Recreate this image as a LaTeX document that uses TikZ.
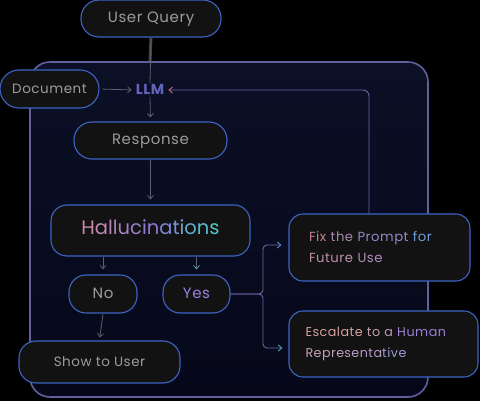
\documentclass[tikz,border=0pt]{standalone}
\usepackage{fontspec}
\setmainfont{Poppins}[LetterSpace=4]
\usetikzlibrary{arrows.meta,calc}

\definecolor{bg}{HTML}{000000}
\definecolor{panelA}{HTML}{0B1026}
\definecolor{panelB}{HTML}{06081A}
\definecolor{panelline}{HTML}{60609C}
\definecolor{boxfill}{HTML}{121212}
\definecolor{boxline}{HTML}{3D63C4}
\definecolor{txt}{HTML}{9C9C9C}
\definecolor{wire}{HTML}{5E5E6C}
\definecolor{llmc}{HTML}{6462BC}
\definecolor{yesc}{HTML}{9A82E0}
\definecolor{loopc}{HTML}{6E64A4}
\definecolor{loophead}{HTML}{C46A7C}

\newcommand{\hc}[2]{\textcolor[HTML]{#1}{#2}}

\tikzset{
  pill/.style={draw=boxline, fill=boxfill, line width=1.1pt, text=txt,
    inner sep=0pt, align=center},
  oneline/.style={text height=0.88em, text depth=0pt},
  wirestyle/.style={draw=wire, line width=0.8pt,
    -{Straight Barb[length=3.5pt,width=6pt]}},
}

\begin{document}
\begin{tikzpicture}[x=1pt,y=-1pt]
  \useasboundingbox (0,0) rectangle (480,401);
  \fill[bg] (0,0) rectangle (480,401);

  % main panel
  \shade[top color=panelA, bottom color=panelB, rounded corners=20pt]
    (30,62) rectangle (428,397);
  \draw[panelline, line width=1.6pt, rounded corners=20pt]
    (30,62) rectangle (428,397);

  % nodes
  \node[pill, oneline, rounded corners=18pt, minimum width=140pt, minimum height=37pt,
        font=\fontsize{15}{17}\selectfont] (uq) at (151,18.5) {User Query};
  \node[pill, oneline, rounded corners=19pt, minimum width=99pt, minimum height=38pt,
        font=\fontsize{13.5}{15}\selectfont] (doc) at (49.5,89) {Document};
  \node[oneline, text=llmc, inner sep=2pt, font=\fontsize{14.5}{16}\selectfont\bfseries]
        (llm) at (150,90) {LLM};
  \node[pill, oneline, rounded corners=18pt, minimum width=153pt, minimum height=37pt,
        font=\fontsize{15}{17}\selectfont] (resp) at (150.5,140.5) {Response};
  \node[pill, oneline, rounded corners=16pt, minimum width=199pt, minimum height=51pt,
        font=\fontsize{19.5}{22}\selectfont] (hal) at (150.5,230.5)
        {\hc{C98AA8}{H}\hc{C087AF}{a}\hc{B785B6}{l}\hc{AE82BD}{l}\hc{A480C3}{u}\hc{9B7DCA}{c}\hc{927BD1}{i}\hc{8A78D8}{n}\hc{8085D5}{a}\hc{7792D3}{t}\hc{6E9FD0}{i}\hc{64ADCD}{o}\hc{5BBACB}{n}\hc{52C8C8}{s}};
  \node[pill, oneline, rounded corners=17pt, minimum width=68pt, minimum height=38pt,
        font=\fontsize{15}{17}\selectfont] (no) at (103,294) {No};
  \node[pill, oneline, rounded corners=17pt, minimum width=67pt, minimum height=38pt,
        text=yesc, font=\fontsize{15}{17}\selectfont] (yes) at (196.5,294) {Yes};
  \node[pill, oneline, rounded corners=17pt, minimum width=161pt, minimum height=42pt,
        font=\fontsize{13.5}{15}\selectfont] (show) at (99.5,362) {Show to User};
  \node[pill, rounded corners=14pt, minimum width=181pt, minimum height=67pt,
        font=\fontsize{13.2}{21}\selectfont, align=left, text width=141pt]
        (fix) at (379.5,247.5)
        {\hc{C4808E}{Fix} \hc{A888B0}{the} \hc{9488C8}{Prompt} \hc{6E9ED8}{for}\\
         \hc{BC90A8}{Future} \hc{B08CB8}{Use}};
  \node[pill, rounded corners=14pt, minimum width=189pt, minimum height=66pt,
        font=\fontsize{12.7}{21}\selectfont, align=left, text width=156pt]
        (esc) at (383.5,344)
        {\hc{D8A0A0}{Escalate} \hc{C89CB0}{to} \hc{BC98C0}{a} \hc{9A80D8}{Human}\\
         \hc{C8A0B8}{Repre}\hc{B89CC8}{senta}\hc{9A9CD4}{tive}};

  % connectors
  \draw[draw=wire!70!black, line width=3pt] (uq.south) -- (150,61);
  \draw[draw=wire, line width=0.8pt] (uq.south) -- (llm.north);
  \draw[wirestyle, shorten <=3pt, shorten >=2pt] (doc.east) -- (llm.west);
  \draw[wirestyle, shorten >=4pt] (llm.south) -- (resp.north);
  \draw[wirestyle, shorten >=5pt] (resp.south) -- (hal.north);
  \draw[wirestyle, shorten >=5pt] (hal.south -| no.north) -- (no.north);
  \draw[wirestyle, -{Straight Barb[length=3.5pt,width=6pt,color=teal!70!white]},
        shorten >=5pt] (hal.south -| yes.north) -- (yes.north);
  \draw[wirestyle, shorten >=3pt] (no.south) -- (show.north);

  % branches from Yes
  \draw[draw=loopc, line width=0.9pt, rounded corners=4pt,
        -{Straight Barb[length=3.5pt,width=6pt,color=boxline!80!white]},
        shorten >=7pt]
    (yes.east) -- (263,294) |- ([yshift=2.5pt]fix.west);
  \draw[draw=loopc, line width=0.9pt, rounded corners=4pt,
        -{Straight Barb[length=3.5pt,width=6pt,color=teal!70!white]},
        shorten >=6pt]
    (yes.east) -- (263,294) |- ([yshift=-4pt]esc.west);

  % feedback loop back to the model
  \coordinate (fixtop) at ([xshift=-10.5pt]fix.north);
  \draw[draw=loopc, line width=0.9pt, rounded corners=6pt,
        -{Straight Barb[length=3.5pt,width=6pt,color=loophead]},
        shorten >=2pt]
    (fixtop) |- (llm.east);
\end{tikzpicture}
\end{document}
